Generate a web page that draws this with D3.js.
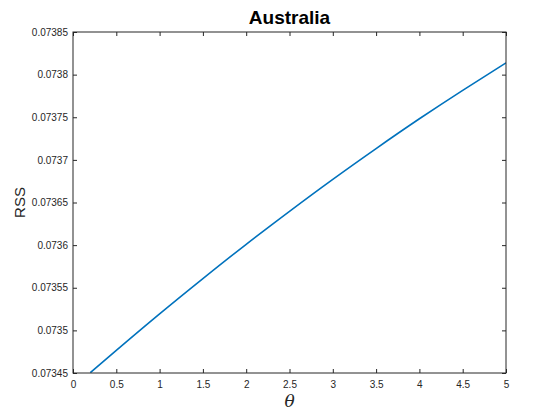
<!DOCTYPE html>
<html>
<head>
<meta charset="utf-8">
<script src="https://cdn.jsdelivr.net/npm/d3@7"></script>
<style>
  html, body { margin: 0; padding: 0; background: #fff; }
  svg { display: block; }
  text { font-family: "Liberation Sans", Arial, Helvetica, sans-serif; }
</style>
</head>
<body>
<svg id="chart" width="560" height="420"></svg>
<script>
// ---- data ----
const theta = [0.2, 0.5, 1.0, 1.5, 2.0, 2.5, 3.0, 3.5, 4.0, 4.5, 5.0];
const rss = [0.0734504, 0.0734766, 0.0735194, 0.0735608, 0.073601, 0.0736397, 0.0736772, 0.0737133, 0.0737482, 0.0737816, 0.0738138];
const xTicks = [0, 0.5, 1, 1.5, 2, 2.5, 3, 3.5, 4, 4.5, 5];
const xTickLabels = ["0", "0.5", "1", "1.5", "2", "2.5", "3", "3.5", "4", "4.5", "5"];
const yTicks = [0.07345, 0.0735, 0.07355, 0.0736, 0.07365, 0.0737, 0.07375, 0.0738, 0.07385];
const yTickLabels = ["0.07345", "0.0735", "0.07355", "0.0736", "0.07365", "0.0737", "0.07375", "0.0738", "0.07385"];
const titleText = "Australia";
const yLabelText = "RSS";
const xLabelText = "\u03B8";

// ---- layout ----
const L = 73, R = 506, T = 32, B = 373;
const axisColor = "#262626";
const svg = d3.select("#chart");

const x = d3.scaleLinear().domain([0, 5]).range([L, R]);
const y = d3.scaleLinear().domain([0.07345, 0.07385]).range([B, T]);

// clip
svg.append("defs").append("clipPath").attr("id", "clip")
  .append("rect").attr("x", L).attr("y", T).attr("width", R - L).attr("height", B - T);

// line
const line = d3.line().x((d, i) => x(theta[i])).y(d => y(d)).curve(d3.curveNatural);
svg.append("path")
  .datum(rss)
  .attr("clip-path", "url(#clip)")
  .attr("fill", "none")
  .attr("stroke", "#0072BD")
  .attr("stroke-width", 1.6)
  .attr("d", line);

function styleAxis(g, showLabels) {
  g.select(".domain").remove();
  g.selectAll(".tick line").attr("stroke", axisColor).attr("stroke-width", 1);
  g.selectAll(".tick text").attr("fill", axisColor).attr("font-size", "10px")
    .style("display", showLabels ? null : "none");
}

// bottom axis
const xAxis = d3.axisBottom(x).tickValues(xTicks)
  .tickFormat((d, i) => xTickLabels[i]).tickSizeInner(-4).tickSizeOuter(0).tickPadding(8);
svg.append("g").attr("transform", `translate(0,${B})`).call(xAxis).call(g => styleAxis(g, true));
// top axis (ticks only)
const xAxisTop = d3.axisTop(x).tickValues(xTicks).tickFormat("").tickSizeInner(-4).tickSizeOuter(0);
svg.append("g").attr("transform", `translate(0,${T})`).call(xAxisTop).call(g => styleAxis(g, false));
// left axis
const yAxis = d3.axisLeft(y).tickValues(yTicks)
  .tickFormat((d, i) => yTickLabels[i]).tickSizeInner(-4).tickSizeOuter(0).tickPadding(5);
svg.append("g").attr("transform", `translate(${L},0)`).call(yAxis).call(g => styleAxis(g, true));
// right axis (ticks only)
const yAxisRight = d3.axisRight(y).tickValues(yTicks).tickFormat("").tickSizeInner(-4).tickSizeOuter(0);
svg.append("g").attr("transform", `translate(${R},0)`).call(yAxisRight).call(g => styleAxis(g, false));

// box
svg.append("rect").attr("x", L).attr("y", T).attr("width", R - L).attr("height", B - T)
  .attr("fill", "none").attr("stroke", axisColor).attr("stroke-width", 1);

// title
svg.append("text").attr("x", (L + R) / 2).attr("y", 24).attr("text-anchor", "middle")
  .attr("font-size", "19px").attr("font-weight", "bold").attr("fill", "#000").text(titleText);

// y label
svg.append("text").attr("transform", `translate(25,${(T + B) / 2}) rotate(-90)`)
  .attr("text-anchor", "middle").attr("font-size", "15px").attr("fill", axisColor).text(yLabelText);

// x label
svg.append("text").attr("x", (L + R) / 2).attr("y", 407).attr("text-anchor", "middle")
  .style("font-family", "'DejaVu Serif', 'Liberation Serif', serif").style("font-style", "italic")
  .attr("font-size", "17px").attr("fill", axisColor).text(xLabelText);
</script>
</body>
</html>
